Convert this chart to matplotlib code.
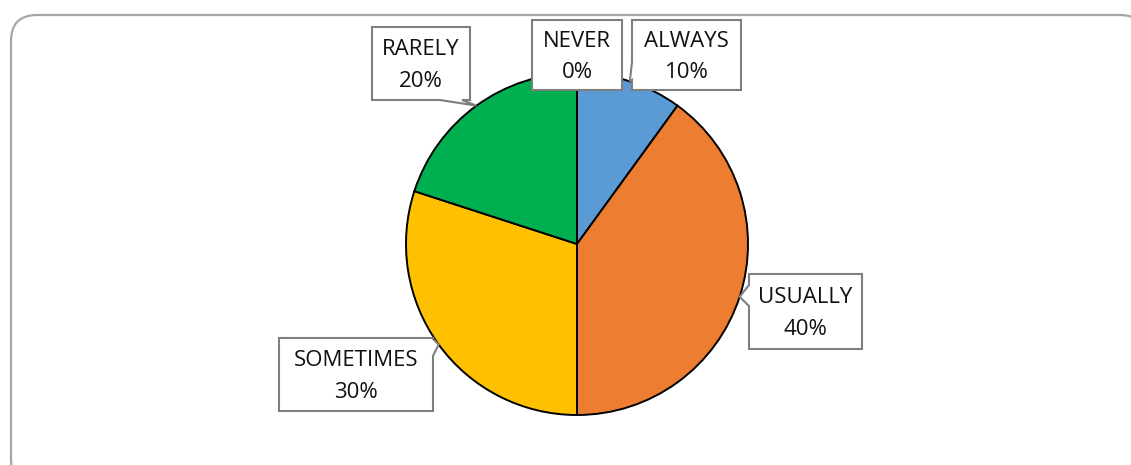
import numpy as np
import matplotlib.pyplot as plt
from matplotlib.patches import FancyBboxPatch, Polygon

# response shares, drawn clockwise from 12 o'clock
labels = ['ALWAYS', 'USUALLY', 'SOMETIMES', 'RARELY', 'NEVER']
shares = [10, 40, 30, 20, 0]
colors = ['#5B9BD5', '#ED7D31', '#FFC000', '#00B050', '#A5A5A5']

W, H = 1131, 465
fig = plt.figure(figsize=(W / 100, H / 100), dpi=100)
ax = fig.add_axes([0, 0, 1, 1])

# chart area outline
frame = FancyBboxPatch((11, -20), 1135, 470,
                       boxstyle='round,pad=0,rounding_size=26',
                       fc='white', ec='#a6a6a6', lw=1.6, zorder=0)
ax.add_patch(frame)

cx, cy, r = 577, 221, 171
ax.pie(shares, colors=colors, startangle=90, counterclock=False,
       center=(cx, cy), radius=r, frame=True,
       wedgeprops=dict(edgecolor='black', linewidth=1.4))
ax.set_xlim(0, W)
ax.set_ylim(0, H)
ax.set_aspect('equal')
ax.axis('off')

# callout boxes: (left, top, right, bottom) in pixel rows, pointer side, pointer base
boxes = {
    'ALWAYS':    ((632, 20, 741, 90), 'left', (62, 80)),
    'USUALLY':   ((749, 274, 862, 349), 'left', (285, 306)),
    'SOMETIMES': ((279, 338, 433, 411), 'right', (339, 356)),
    'RARELY':    ((372, 27, 470, 100), 'bottom', (440, 462)),
    'NEVER':     ((532, 20, 622, 90), None, None),
}

total = sum(shares)
start = 90.0
for lab, val in zip(labels, shares):
    span = 360.0 * val / total
    mid = np.deg2rad(start - span / 2)
    start -= span
    tip = (cx + r * np.cos(mid), cy + r * np.sin(mid))

    (x0, t, x1, b), side, base = boxes[lab]
    y0, y1 = H - b, H - t
    if side == 'left':
        pts = [(x0, y1), (x0, H - base[0]), tip, (x0, H - base[1]),
               (x0, y0), (x1, y0), (x1, y1)]
    elif side == 'right':
        pts = [(x0, y1), (x0, y0), (x1, y0), (x1, H - base[1]), tip,
               (x1, H - base[0]), (x1, y1)]
    elif side == 'bottom':
        pts = [(x0, y1), (x0, y0), (base[0], y0), tip, (base[1], y0),
               (x1, y0), (x1, y1)]
    else:
        pts = [(x0, y1), (x0, y0), (x1, y0), (x1, y1)]
    ax.add_patch(Polygon(pts, closed=True, fc='white', ec='#7f7f7f',
                         lw=1.5, zorder=5))
    ax.text((x0 + x1) / 2, (y0 + y1) / 2 - 2, f'{lab}\n{val}%',
            ha='center', va='center', fontsize=16, family='Open Sans',
            linespacing=1.65, color='#111111', zorder=6)

fig.savefig('out.png', dpi=100)
